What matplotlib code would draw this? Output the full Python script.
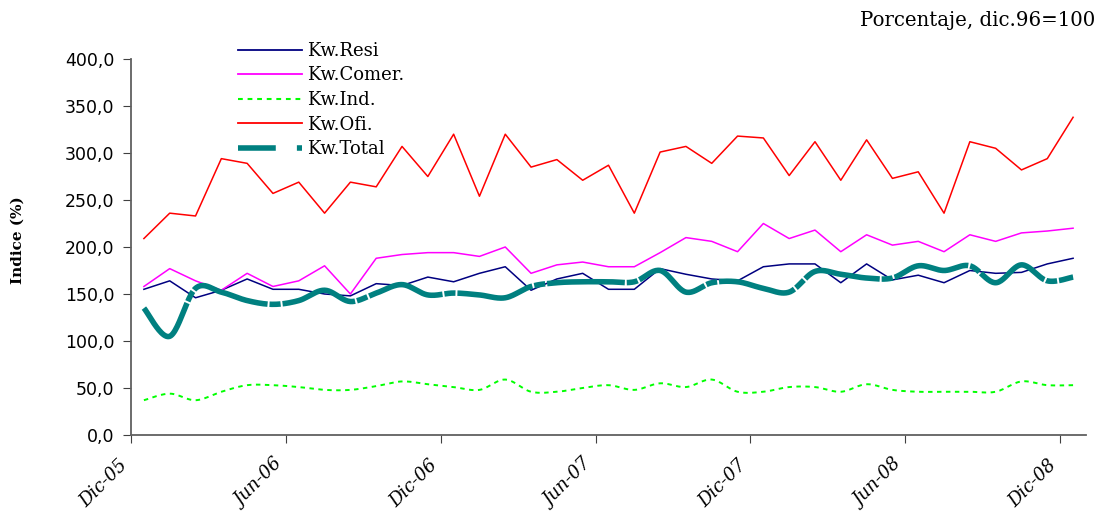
import numpy as np
import matplotlib
matplotlib.use("Agg")
import matplotlib.pyplot as plt
from matplotlib.lines import Line2D

# ---- data ----
tick_labels = ["Dic-05", "Jun-06", "Dic-06", "Jun-07", "Dic-07", "Jun-08", "Dic-08"]
resi = [155, 164, 146, 154, 166, 155, 155, 150, 148, 161, 159, 168, 163, 172, 179, 154,
        166, 172, 155, 155, 177, 171, 166, 164, 179, 182, 182, 162, 182, 165, 170, 162,
        175, 172, 173, 182, 188]
comer = [158, 177, 164, 154, 172, 158, 164, 180, 150, 188, 192, 194, 194, 190, 200, 172,
         181, 184, 179, 179, 194, 210, 206, 195, 225, 209, 218, 195, 213, 202, 206, 195,
         213, 206, 215, 217, 220]
ind = [37, 44, 37, 46, 53, 53, 51, 48, 48, 52, 57, 54, 51, 48, 59, 46, 46, 50, 53, 48,
       55, 51, 59, 46, 46, 51, 51, 46, 54, 48, 46, 46, 46, 46, 57, 53, 53]
ofi = [209, 236, 233, 294, 289, 257, 269, 236, 269, 264, 307, 275, 320, 254, 320, 285,
       293, 271, 287, 236, 301, 307, 289, 318, 316, 276, 312, 271, 314, 273, 280, 236,
       312, 305, 282, 294, 338]
total = [135, 105, 156, 152, 143, 139, 143, 154, 142, 151, 160, 149, 151, 149, 146, 158,
         162, 163, 163, 163, 175, 152, 162, 163, 156, 152, 174, 171, 167, 167, 180, 175,
         180, 162, 181, 164, 168]
series_names = ["Kw.Resi", "Kw.Comer.", "Kw.Ind.", "Kw.Ofi.", "Kw.Total"]


def smooth(x, y, n=24):
    """Catmull-Rom style smoothing (like a spreadsheet smoothed line)."""
    x = np.asarray(x, float)
    y = np.asarray(y, float)
    P = np.column_stack([x, y])
    P = np.vstack([P[0], P, P[-1]])
    out = []
    t = np.linspace(0, 1, n, endpoint=False)
    for i in range(1, len(P) - 2):
        p0, p1, p2, p3 = P[i - 1], P[i], P[i + 1], P[i + 2]
        c1 = p1 + (p2 - p0) / 6.0
        c2 = p2 - (p3 - p1) / 6.0
        b = ((1 - t) ** 3)[:, None] * p1 + (3 * (1 - t) ** 2 * t)[:, None] * c1 \
            + (3 * (1 - t) * t ** 2)[:, None] * c2 + (t ** 3)[:, None] * p2
        out.append(b)
    out.append(P[-2][None, :])
    out = np.vstack(out)
    return out[:, 0], out[:, 1]


x = np.arange(len(resi))

fig = plt.figure(figsize=(11.04, 5.19), dpi=100)
ax = fig.add_axes([131 / 1104, 1 - 435 / 519, (1086 - 131) / 1104, (435 - 59) / 519])

ax.plot(x, resi, color="#000080", lw=1.1, zorder=3)
ax.plot(x, comer, color="#FF00FF", lw=1.1, zorder=3)
xi, yi = smooth(x, ind)
ax.plot(xi, yi, color="#00FF00", lw=1.4, dashes=(2.3, 2.3), zorder=3)
ax.plot(x, ofi, color="#FF0000", lw=1.1, zorder=3)
xt, yt = smooth(x, total)
ax.plot(xt, yt, color="#008080", lw=4.0, dashes=(14, 0.35, 2, 0.35),
        solid_capstyle="butt", dash_capstyle="butt", zorder=4)

ax.set_xlim(-0.5, 36.5)
ax.set_ylim(0, 400)
ax.set_yticks(np.arange(0, 401, 50))
ax.set_yticklabels([f"{v:.1f}".replace(".", ",") for v in np.arange(0, 401, 50)],
                   fontsize=12.5, family="DejaVu Sans")
ax.set_xticks(np.arange(-0.5, 36, 6))
ax.set_xticklabels(tick_labels, rotation=45, ha="right", va="top",
                   fontsize=13, family="DejaVu Serif", style="italic")
ax.tick_params(axis="x", length=6, pad=9, color="#404040")
ax.tick_params(axis="y", length=6, pad=6, color="#404040")
for lbl in ax.get_xticklabels():
    lbl.set_x(lbl.get_position()[0])
for s in ["top", "right"]:
    ax.spines[s].set_visible(False)
for s in ["left", "bottom"]:
    ax.spines[s].set_color("#606060")
    ax.spines[s].set_linewidth(1.3)

fig.text(18 / 1104, 1 - 240 / 519, "Indice (%)", rotation=90, ha="center", va="center",
         fontsize=11, fontweight="bold", family="DejaVu Serif")
fig.text(1095 / 1104, 1 - 20 / 519, "Porcentaje, dic.96=100", ha="right", va="center",
         fontsize=14.2, family="DejaVu Serif")

handles = [
    Line2D([], [], color="#000080", lw=1.3),
    Line2D([], [], color="#FF00FF", lw=1.3),
    Line2D([], [], color="#00FF00", lw=1.5, dashes=(2.3, 2.3)),
    Line2D([], [], color="#FF0000", lw=1.3),
    Line2D([], [], color="#008080", lw=4.0, dashes=(6.8, 3.8, 1.2, 3.8), dash_capstyle="butt"),
]
fig.legend(handles, series_names, loc="upper left",
           bbox_to_anchor=(238 / 1104, 1 - 42 / 519), frameon=False,
           prop={"family": "DejaVu Serif", "size": 13}, handlelength=3.55,
           handletextpad=0.3, labelspacing=0.36, borderpad=0, borderaxespad=0)

fig.savefig("out.png", dpi=100)
